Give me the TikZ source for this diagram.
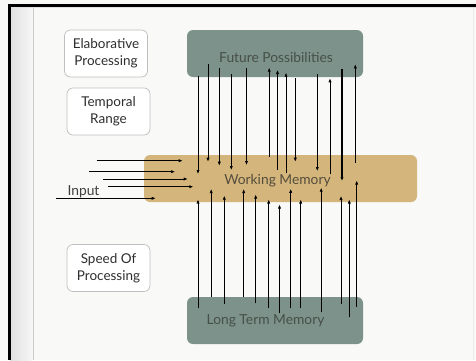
\documentclass[tikz,border=0pt]{standalone}
\usepackage{fontspec}
\setmainfont{Lato}
\usetikzlibrary{arrows.meta}
\definecolor{fpfill}{RGB}{124,146,138}
\definecolor{wmfill}{RGB}{212,182,124}
\definecolor{fptext}{RGB}{70,80,72}
\definecolor{wmtext}{RGB}{84,76,60}
\definecolor{slidebg}{RGB}{249,249,248}
\begin{document}
\begin{tikzpicture}[x=1pt,y=-1pt,
  sidebox/.style={draw=black!25, fill=white, rounded corners=6pt, line width=0.7pt,
    minimum width=83pt, minimum height=47pt, align=center, text=black!82,
    font=\fontsize{13.5}{17}\selectfont},
  bigbox/.style={rounded corners=6pt, minimum width=176pt, minimum height=47pt, inner sep=0pt},
  boxlabel/.style={font=\fontsize{13.8}{16}\selectfont, inner sep=0pt},
  arr/.style={-{Latex[length=4pt,width=3.2pt]}, line width=0.7pt},
  ln/.style={line width=0.7pt}]
\useasboundingbox (0,0) rectangle (476,360);
% slide background
\fill[slidebg] (0,0) rectangle (476,360);
\shade[left color=black!12, right color=black!3] (10,6) rectangle (33,360);
\draw[black!20, line width=0.8pt] (33,6) -- (33,360);
\fill[black] (8,4) rectangle (476,6.5);
\fill[black] (8,4) rectangle (10.5,360);
\draw[black!12, line width=0.8pt] (10.5,7.5) -- (476,7.5);
\draw[black!8, line width=0.8pt] (473,7) -- (473,360);
% side boxes
\node[sidebox] (elab) at (106,53.5) {Elaborative\\Processing};
\node[sidebox] (temp) at (108.5,111.5) {Temporal\\Range};
\node[sidebox] (speed) at (108.5,268) {Speed Of\\Processing};
% main boxes
\node[bigbox, fill=fpfill] (fp) at (275,53.5) {};
\node[bigbox, fill=wmfill, minimum width=273pt] (wm) at (280.5,178.5) {};
\node[bigbox, fill=fpfill] (ltm) at (275,320.5) {};
\node[boxlabel, text=fptext] (fpl) at (276,57) {Future Possibilities};
\node[boxlabel, text=wmtext] (wml) at (277.5,181) {Working Memory};
\node[boxlabel, text=fptext] (ltml) at (265.5,321) {Long Term Memory};
% arrows between Future Possibilities and Working Memory
\foreach \x/\a/\b [count=\i] in {198/76/174, 208/64/161.7, 219.3/68.3/165.7, 231.3/74/170,
  246.5/68.3/165, 269.2/156.7/67.7, 277.5/170/70, 286/173.3/72.7, 295.3/78.3/161.7,
  317.3/74/171, 330/174.3/78.3, 355.3/162.7/64.3}{
  \coordinate (ta\i) at (\x,\a);
  \coordinate (tb\i) at (\x,\b);
  \draw[arr] (ta\i) -- (tb\i);
}
\coordinate (tka) at (342,69.3);
\coordinate (tkb) at (342,181);
\draw[arr, line width=1.4pt] (tka) -- (tkb);
% arrows between Long Term Memory and Working Memory
\foreach \x/\a/\b [count=\i] in {198/308.3/199.5, 211.2/296.7/189, 224.3/304/195.7,
  243.7/297.3/189, 255.7/303.3/194.5, 268.7/308.3/199.5, 279.5/313.3/204.5,
  290.7/308.3/188.8, 300.7/308.3/199.5, 321.2/312.3/187.7, 341/304/196,
  349.3/317.3/199.5, 356.7/306.7/180.5}{
  \coordinate (ba\i) at (\x,\a);
  \coordinate (bb\i) at (\x,\b);
  \draw[arr] (ba\i) -- (bb\i);
}
% input arrows
\foreach \xa/\xb/\y [count=\i] in {96.7/182.7/160.7, 89.3/175/171.7, 103.3/187.7/179,
  108.3/193.3/186.7, 56/155.7/198.3}{
  \coordinate (ia\i) at (\xa,\y);
  \coordinate (ib\i) at (\xb,\y);
  \draw[arr] (ia\i) -- (ib\i);
}
\node[boxlabel, text=black!75] (inp) at (83.5,192) {Input};
\end{tikzpicture}
\end{document}
